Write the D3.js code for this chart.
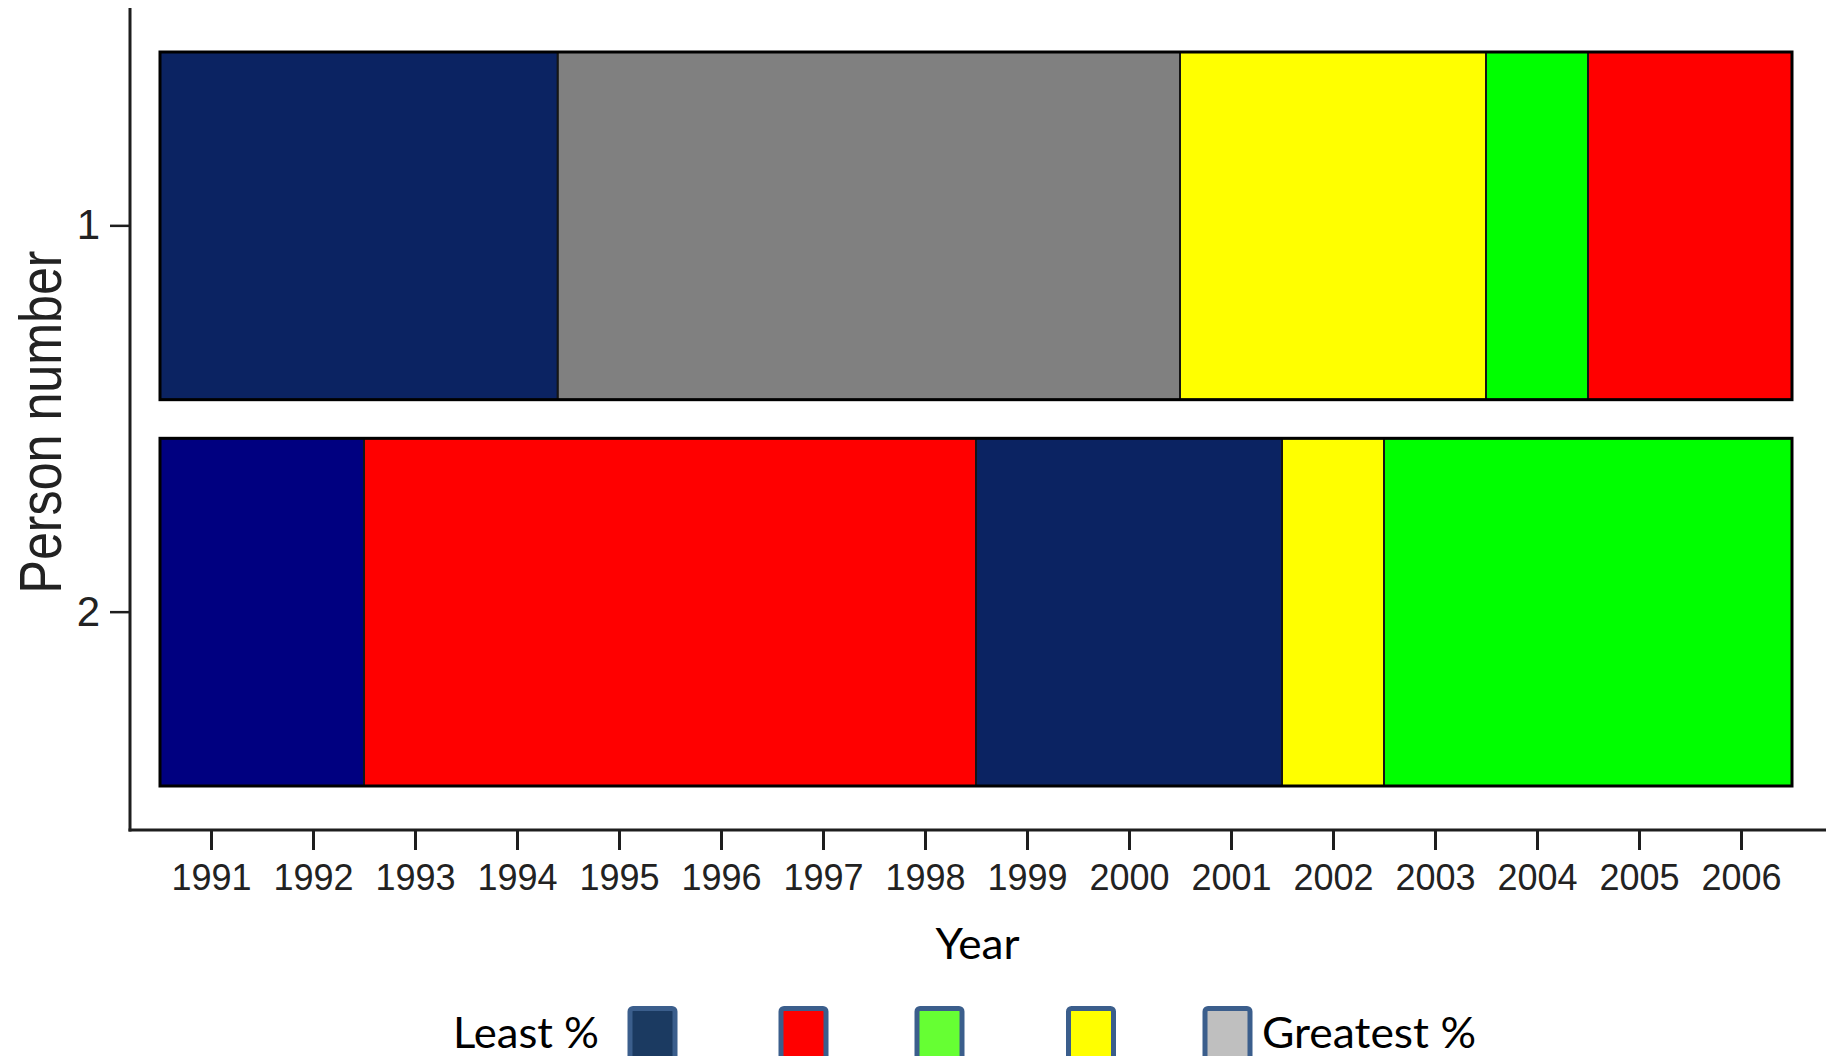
<!DOCTYPE html>
<html>
<head>
<meta charset="utf-8">
<script src="https://cdn.jsdelivr.net/npm/d3@7"></script>
<style>
  html, body { margin: 0; padding: 0; background: #ffffff; }
  svg { display: block; }
</style>
</head>
<body>
<svg id="chart" width="1826" height="1056"></svg>
<script>
// ---- data ----
const persons = ["1", "2"];
const person1Breaks = [1990.5, 1994.4, 2000.5, 2003.5, 2004.5, 2006.5];
const person1Colors = ["#0B2362", "#808080", "#FFFF00", "#00FF00", "#FF0000"];
const person2Breaks = [1990.5, 1992.5, 1998.5, 2001.5, 2002.5, 2006.5];
const person2Colors = ["#000080", "#FF0000", "#0B2362", "#FFFF00", "#00FF00"];
const yearTicks = [1991, 1992, 1993, 1994, 1995, 1996, 1997, 1998, 1999, 2000, 2001, 2002, 2003, 2004, 2005, 2006];
const legendColors = ["#1B3A61", "#FF0000", "#66FF33", "#FFFF00", "#BFBFBF"];
const legendLeftLabel = "Least %";
const legendRightLabel = "Greatest %";
const xTitle = "Year";
const yTitle = "Person number";

// ---- build segment table ----
const rows = [
  { person: persons[0], breaks: person1Breaks, colors: person1Colors },
  { person: persons[1], breaks: person2Breaks, colors: person2Colors }
];
const segments = [];
rows.forEach(r => {
  for (let i = 0; i < r.colors.length; i++) {
    segments.push({ person: r.person, start: r.breaks[i], end: r.breaks[i + 1], color: r.colors[i] });
  }
});

const svg = d3.select("#chart");

const x = d3.scaleLinear().domain([1990.5, 2006.5]).range([160, 1792]);
const y = d3.scaleBand().domain(persons).range([52, 786]).paddingInner(0.1).paddingOuter(0);

const axisColor = "#1e1e1e";
const tickFont = "'Liberation Sans', Arial, Helvetica, sans-serif";
const calibriLike = "Lato, 'Open Sans', sans-serif";

// ---- bars ----
svg.append("g").selectAll("rect.seg")
  .data(segments)
  .join("rect")
  .attr("class", "seg")
  .attr("x", d => x(d.start))
  .attr("y", d => y(d.person))
  .attr("width", d => x(d.end) - x(d.start))
  .attr("height", y.bandwidth())
  .attr("fill", d => d.color)
  .attr("stroke", "#151515")
  .attr("stroke-width", 2);

svg.append("g").selectAll("rect.outline")
  .data(rows)
  .join("rect")
  .attr("class", "outline")
  .attr("x", d => x(d.breaks[0]))
  .attr("y", d => y(d.person))
  .attr("width", d => x(d.breaks[d.breaks.length - 1]) - x(d.breaks[0]))
  .attr("height", y.bandwidth())
  .attr("fill", "none")
  .attr("stroke", "#000")
  .attr("stroke-width", 3);

// ---- axes ----
const axisX0 = 130, axisY0 = 830;

const yAxis = svg.append("g")
  .attr("transform", `translate(${axisX0},0)`)
  .call(d3.axisLeft(y).tickSize(20).tickPadding(10).tickSizeOuter(0));
yAxis.select(".domain").remove();
yAxis.selectAll(".tick line").attr("stroke", axisColor).attr("stroke-width", 2.5);
yAxis.selectAll(".tick text")
  .attr("fill", "#222")
  .style("font-family", tickFont)
  .style("font-size", "42px");

const xAxis = svg.append("g")
  .attr("transform", `translate(0,${axisY0})`)
  .call(d3.axisBottom(x).tickValues(yearTicks).tickFormat(d3.format("d")).tickSize(20).tickPadding(14).tickSizeOuter(0));
xAxis.select(".domain").remove();
xAxis.selectAll(".tick line").attr("stroke", axisColor).attr("stroke-width", 3);
xAxis.selectAll(".tick text")
  .attr("fill", "#222")
  .style("font-family", tickFont)
  .style("font-size", "36px");

// spines
svg.append("line")
  .attr("x1", axisX0).attr("x2", axisX0)
  .attr("y1", 8).attr("y2", axisY0 + 1.5)
  .attr("stroke", axisColor).attr("stroke-width", 3);
svg.append("line")
  .attr("x1", axisX0 - 1.5).attr("x2", 1826)
  .attr("y1", axisY0).attr("y2", axisY0)
  .attr("stroke", axisColor).attr("stroke-width", 3);

// ---- titles ----
svg.append("text")
  .attr("x", 977.5).attr("y", 959)
  .attr("text-anchor", "middle")
  .attr("textLength", 84)
  .attr("lengthAdjust", "spacingAndGlyphs")
  .style("font-family", calibriLike)
  .style("font-size", "43px")
  .attr("fill", "#000")
  .text(xTitle);

svg.append("text")
  .attr("transform", "translate(61,422) rotate(-90)")
  .attr("text-anchor", "middle")
  .attr("textLength", 343)
  .attr("lengthAdjust", "spacingAndGlyphs")
  .style("font-family", tickFont)
  .style("font-size", "60px")
  .attr("fill", "#222")
  .text(yTitle);

// ---- legend ----
const legendBoxLefts = [630, 781, 917, 1068.5, 1205];
const legend = svg.append("g");
legend.selectAll("rect")
  .data(legendColors)
  .join("rect")
  .attr("x", (d, i) => legendBoxLefts[i])
  .attr("y", 1008.5)
  .attr("width", 45)
  .attr("height", 52)
  .attr("rx", 3)
  .attr("fill", d => d)
  .attr("stroke", "#3B5E8C")
  .attr("stroke-width", 5);

legend.append("text")
  .attr("x", 453).attr("y", 1048)
  .attr("textLength", 146)
  .attr("lengthAdjust", "spacingAndGlyphs")
  .style("font-family", calibriLike)
  .style("font-size", "43px")
  .attr("fill", "#000")
  .text(legendLeftLabel);

legend.append("text")
  .attr("x", 1262).attr("y", 1048)
  .attr("textLength", 214)
  .attr("lengthAdjust", "spacingAndGlyphs")
  .style("font-family", calibriLike)
  .style("font-size", "43px")
  .attr("fill", "#000")
  .text(legendRightLabel);
</script>
</body>
</html>
